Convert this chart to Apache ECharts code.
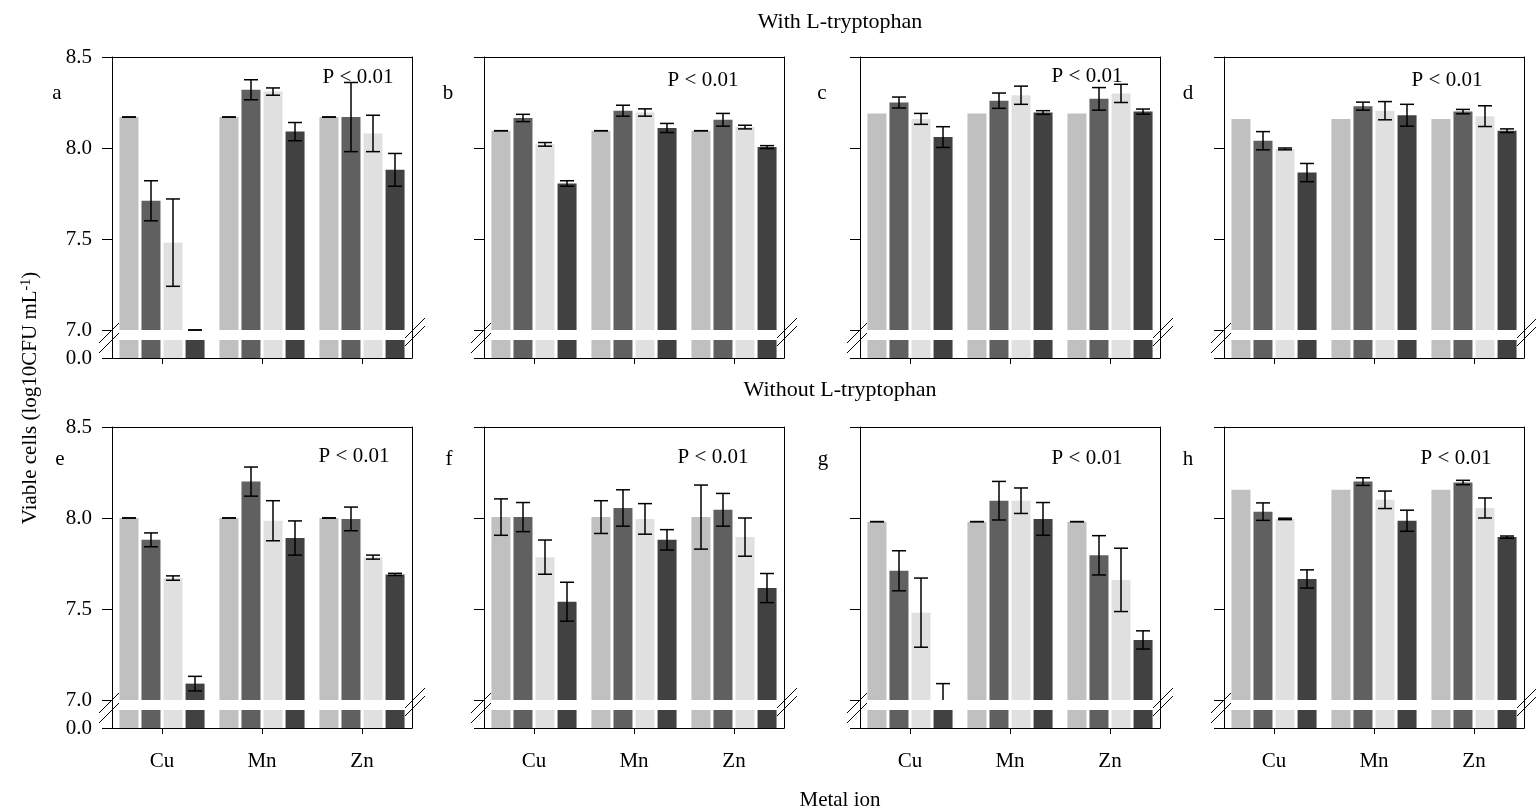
<!DOCTYPE html>
<html>
<head>
<meta charset="utf-8">
<script src="https://cdn.jsdelivr.net/npm/echarts@6/dist/echarts.min.js"></script>
<style>
  html, body { margin: 0; padding: 0; background: #fff; }
  #chart { width: 1536px; height: 810px; }
</style>
</head>
<body>
<div id="chart"></div>
<script>
// ---- data --------------------------------------------------------------
const metals = ['Cu', 'Mn', 'Zn'];
const levels = ['Level 1', 'Level 2', 'Level 3', 'Level 4'];
const upperTicks = [7.0, 7.5, 8.0, 8.5];
const lowerTicks = [0.0];
const panelLetters = ['a', 'b', 'c', 'd', 'e', 'f', 'g', 'h'];
const rowTitles = ['With L-tryptophan', 'Without L-tryptophan'];
const xTitle = 'Metal ion';
const yTitle = 'Viable cells (log10CFU mL';
const ySup = '-1';
const pText = 'P < 0.01';

// mean log10 CFU/mL: one row per metal (Cu, Mn, Zn), one column per level
// err: half-width of the error bar; null = no error bar drawn
const meanA = [[8.17, 7.71, 7.48, 7.00], [8.17, 8.32, 8.31, 8.09], [8.17, 8.17, 8.08, 7.88]];
const errA  = [[0, 0.11, 0.24, 0], [0, 0.055, 0.02, 0.05], [0, 0.19, 0.10, 0.09]];
const meanB = [[8.095, 8.165, 8.02, 7.805], [8.095, 8.205, 8.195, 8.11], [8.095, 8.155, 8.115, 8.005]];
const errB  = [[0, 0.02, 0.01, 0.015], [0, 0.03, 0.02, 0.025], [0, 0.035, 0.01, 0.008]];
const meanC = [[8.19, 8.25, 8.16, 8.06], [8.19, 8.26, 8.29, 8.195], [8.19, 8.27, 8.30, 8.20]];
const errC  = [[null, 0.03, 0.03, 0.057], [null, 0.042, 0.05, 0.01], [null, 0.062, 0.05, 0.014]];
const meanD = [[8.16, 8.04, 7.995, 7.865], [8.16, 8.23, 8.205, 8.18], [8.16, 8.20, 8.175, 8.095]];
const errD  = [[null, 0.05, 0.005, 0.05], [null, 0.022, 0.05, 0.06], [null, 0.012, 0.057, 0.01]];
const meanE = [[8.00, 7.88, 7.67, 7.09], [8.00, 8.20, 7.985, 7.89], [8.00, 7.995, 7.785, 7.69]];
const errE  = [[0, 0.038, 0.012, 0.04], [0, 0.08, 0.11, 0.094], [0, 0.065, 0.011, 0.006]];
const meanF = [[8.005, 8.005, 7.785, 7.54], [8.005, 8.055, 7.995, 7.88], [8.005, 8.045, 7.895, 7.615]];
const errF  = [[0.10, 0.08, 0.094, 0.107], [0.09, 0.10, 0.084, 0.056], [0.176, 0.09, 0.105, 0.08]];
const meanG = [[7.98, 7.71, 7.48, 7.00], [7.98, 8.095, 8.095, 7.995], [7.98, 7.795, 7.66, 7.33]];
const errG  = [[0, 0.11, 0.19, 0.09], [0, 0.106, 0.07, 0.09], [0, 0.108, 0.174, 0.05]];
const meanH = [[8.155, 8.035, 7.995, 7.665], [8.155, 8.20, 8.10, 7.985], [8.155, 8.195, 8.055, 7.895]];
const errH  = [[null, 0.048, 0.004, 0.05], [null, 0.021, 0.048, 0.058], [null, 0.012, 0.055, 0.006]];

const panelMeans = [meanA, meanB, meanC, meanD, meanE, meanF, meanG, meanH];
const panelErrs  = [errA, errB, errC, errD, errE, errF, errG, errH];

// ---- layout & style ------------------------------------------------------
const FONT = '"Liberation Serif", "Times New Roman", serif';
const FS = 21;
const TITLE_FS = 22;
const shades = ['#c0c0c0', '#606060', '#e0e0e0', '#414141'];
const colLeft = [112, 484, 860, 1224];
const rowTop = [57, 427];
const plotW = 300, upperH = 273, gapH = 10, lowerH = 18;
const barW = 19, barStep = 22;
const letterPos = [[57, 93], [448, 93], [822, 93], [1188, 93], [60, 459], [449, 459], [823, 459], [1188, 459]];
const pPos = [[358, 77], [703, 80], [1087, 76], [1447, 80], [354, 456], [713, 457], [1087, 458], [1456, 458]];

const lineStyle = { color: '#000', width: 1 };

function errorBarRenderer(offset) {
  return function (params, api) {
    const cs = params.coordSys;
    const cat = api.value(0), m = api.value(1), e = api.value(2);
    const x = api.coord([cat, m])[0] + offset;
    const yHi = api.coord([cat, m + e])[1];
    const yLoRaw = api.coord([cat, m - e])[1];
    const bottom = cs.y + cs.height;
    const yLo = Math.min(yLoRaw, bottom);
    const st = { stroke: '#000', lineWidth: 1.5 };
    const half = 7;
    const children = [
      { type: 'line', shape: { x1: x, y1: yHi, x2: x, y2: yLo }, style: st },
      { type: 'line', shape: { x1: x - half, y1: yHi, x2: x + half, y2: yHi }, style: st }
    ];
    if (yLoRaw <= bottom + 0.5) {
      children.push({ type: 'line', shape: { x1: x - half, y1: yLo, x2: x + half, y2: yLo }, style: st });
    }
    return { type: 'group', children: children };
  };
}

const grid = [], xAxis = [], yAxis = [], series = [], graphic = [];

for (let p = 0; p < 8; p++) {
  const row = p < 4 ? 0 : 1;
  const col = p % 4;
  const L = colLeft[col];
  const T = rowTop[row];
  const lowerTop = T + upperH + gapH;

  grid.push({ left: L, top: T, width: plotW, height: upperH });
  grid.push({ left: L, top: lowerTop, width: plotW, height: lowerH });

  // upper segment: 7.0 - 8.5
  xAxis.push({
    gridIndex: 2 * p, type: 'category', data: metals, position: 'top',
    axisLine: { show: true, onZero: false, lineStyle: lineStyle },
    axisTick: { show: false }, axisLabel: { show: false }, splitLine: { show: false }
  });
  // lower segment: 0.0 stub with category ticks / labels
  xAxis.push({
    gridIndex: 2 * p + 1, type: 'category', data: metals, position: 'bottom',
    axisLine: { show: true, onZero: false, lineStyle: lineStyle },
    axisTick: { show: true, alignWithLabel: true, length: 6, lineStyle: lineStyle },
    axisLabel: { show: row === 1, margin: 23, color: '#000', fontFamily: FONT, fontSize: FS },
    splitLine: { show: false }
  });

  yAxis.push({
    gridIndex: 2 * p, type: 'value', position: 'left', min: 7, max: 8.5, interval: 0.5,
    axisLine: { show: true, lineStyle: lineStyle },
    axisTick: { show: true, length: 10, customValues: upperTicks, lineStyle: lineStyle },
    axisLabel: { show: col === 0, margin: 20, customValues: upperTicks, formatter: v => v.toFixed(1),
      color: '#000', fontFamily: FONT, fontSize: FS },
    splitLine: { show: false }
  });
  yAxis.push({
    gridIndex: 2 * p, type: 'value', position: 'right', min: 7, max: 8.5,
    axisLine: { show: true, lineStyle: lineStyle },
    axisTick: { show: false }, axisLabel: { show: false }, splitLine: { show: false }
  });
  yAxis.push({
    gridIndex: 2 * p + 1, type: 'value', position: 'left', min: 0, max: 1,
    axisLine: { show: true, lineStyle: lineStyle },
    axisTick: { show: true, length: 10, customValues: lowerTicks, lineStyle: lineStyle },
    axisLabel: { show: col === 0, margin: 20, customValues: lowerTicks, formatter: v => v.toFixed(1),
      color: '#000', fontFamily: FONT, fontSize: FS },
    splitLine: { show: false }
  });
  yAxis.push({
    gridIndex: 2 * p + 1, type: 'value', position: 'right', min: 0, max: 1,
    axisLine: { show: true, lineStyle: lineStyle },
    axisTick: { show: false }, axisLabel: { show: false }, splitLine: { show: false }
  });

  const mean = panelMeans[p], err = panelErrs[p];
  for (let k = 0; k < 4; k++) {
    const vals = metals.map((m, i) => mean[i][k]);
    const common = {
      type: 'bar', name: levels[k], data: vals, barWidth: barW, barGap: '16%',
      itemStyle: { color: shades[k] }, silent: true, clip: true
    };
    series.push(Object.assign({}, common, { xAxisIndex: 2 * p, yAxisIndex: 4 * p }));
    series.push(Object.assign({}, common, { xAxisIndex: 2 * p + 1, yAxisIndex: 4 * p + 2 }));

    const errData = [];
    metals.forEach((m, i) => {
      if (err[i][k] !== null) errData.push([i, mean[i][k], err[i][k]]);
    });
    series.push({
      type: 'custom', name: levels[k] + ' error', xAxisIndex: 2 * p, yAxisIndex: 4 * p,
      data: errData, z: 5, silent: true,
      renderItem: errorBarRenderer((k - 1.5) * barStep)
    });
  }

  // frame lines across the axis break
  const y1 = T + upperH, y2 = lowerTop;
  [L, L + plotW].forEach(x => {
    graphic.push({ type: 'line', shape: { x1: x + 0.5, y1: y1, x2: x + 0.5, y2: y2 },
      style: { stroke: '#000', lineWidth: 1 }, silent: true });
  });
  // break marks "//"
  const mid = (y1 + y2) / 2;
  const marks = [[L - 3, mid - 2], [L - 3, mid + 8], [L + plotW + 3, mid - 7], [L + plotW + 3, mid + 1]];
  marks.forEach(([cx, cy]) => {
    graphic.push({ type: 'line', shape: { x1: cx - 10, y1: cy + 10, x2: cx + 10, y2: cy - 10 },
      style: { stroke: '#000', lineWidth: 1 }, silent: true });
  });

  // panel letter and significance note
  graphic.push({ type: 'text', x: letterPos[p][0], y: letterPos[p][1], silent: true,
    style: { text: panelLetters[p], font: FS + 'px ' + FONT, fill: '#000', align: 'center', verticalAlign: 'middle' } });
  graphic.push({ type: 'text', x: pPos[p][0], y: pPos[p][1], silent: true,
    style: { text: pText, font: FS + 'px ' + FONT, fill: '#000', align: 'center', verticalAlign: 'middle' } });
}

// row titles, x-axis title and y-axis title
graphic.push({ type: 'text', x: 840, y: 22, silent: true,
  style: { text: rowTitles[0], font: TITLE_FS + 'px ' + FONT, fill: '#000', align: 'center', verticalAlign: 'middle' } });
graphic.push({ type: 'text', x: 840, y: 390, silent: true,
  style: { text: rowTitles[1], font: TITLE_FS + 'px ' + FONT, fill: '#000', align: 'center', verticalAlign: 'middle' } });
graphic.push({ type: 'text', x: 840, y: 800, silent: true,
  style: { text: xTitle, font: FS + 'px ' + FONT, fill: '#000', align: 'center', verticalAlign: 'middle' } });
graphic.push({ type: 'text', x: 30, y: 398, rotation: Math.PI / 2, silent: true,
  style: {
    text: yTitle + '{sup|' + ySup + '})',
    font: FS + 'px ' + FONT, fill: '#000', align: 'center', verticalAlign: 'middle',
    rich: { sup: { fontSize: 14, fontFamily: FONT, fill: '#000', verticalAlign: 'top', lineHeight: 21 } }
  } });

const chart = echarts.init(document.getElementById('chart'), null, { renderer: 'canvas' });
chart.setOption({
  animation: false,
  backgroundColor: '#fff',
  grid: grid,
  xAxis: xAxis,
  yAxis: yAxis,
  series: series,
  graphic: graphic
});
</script>
</body>
</html>
